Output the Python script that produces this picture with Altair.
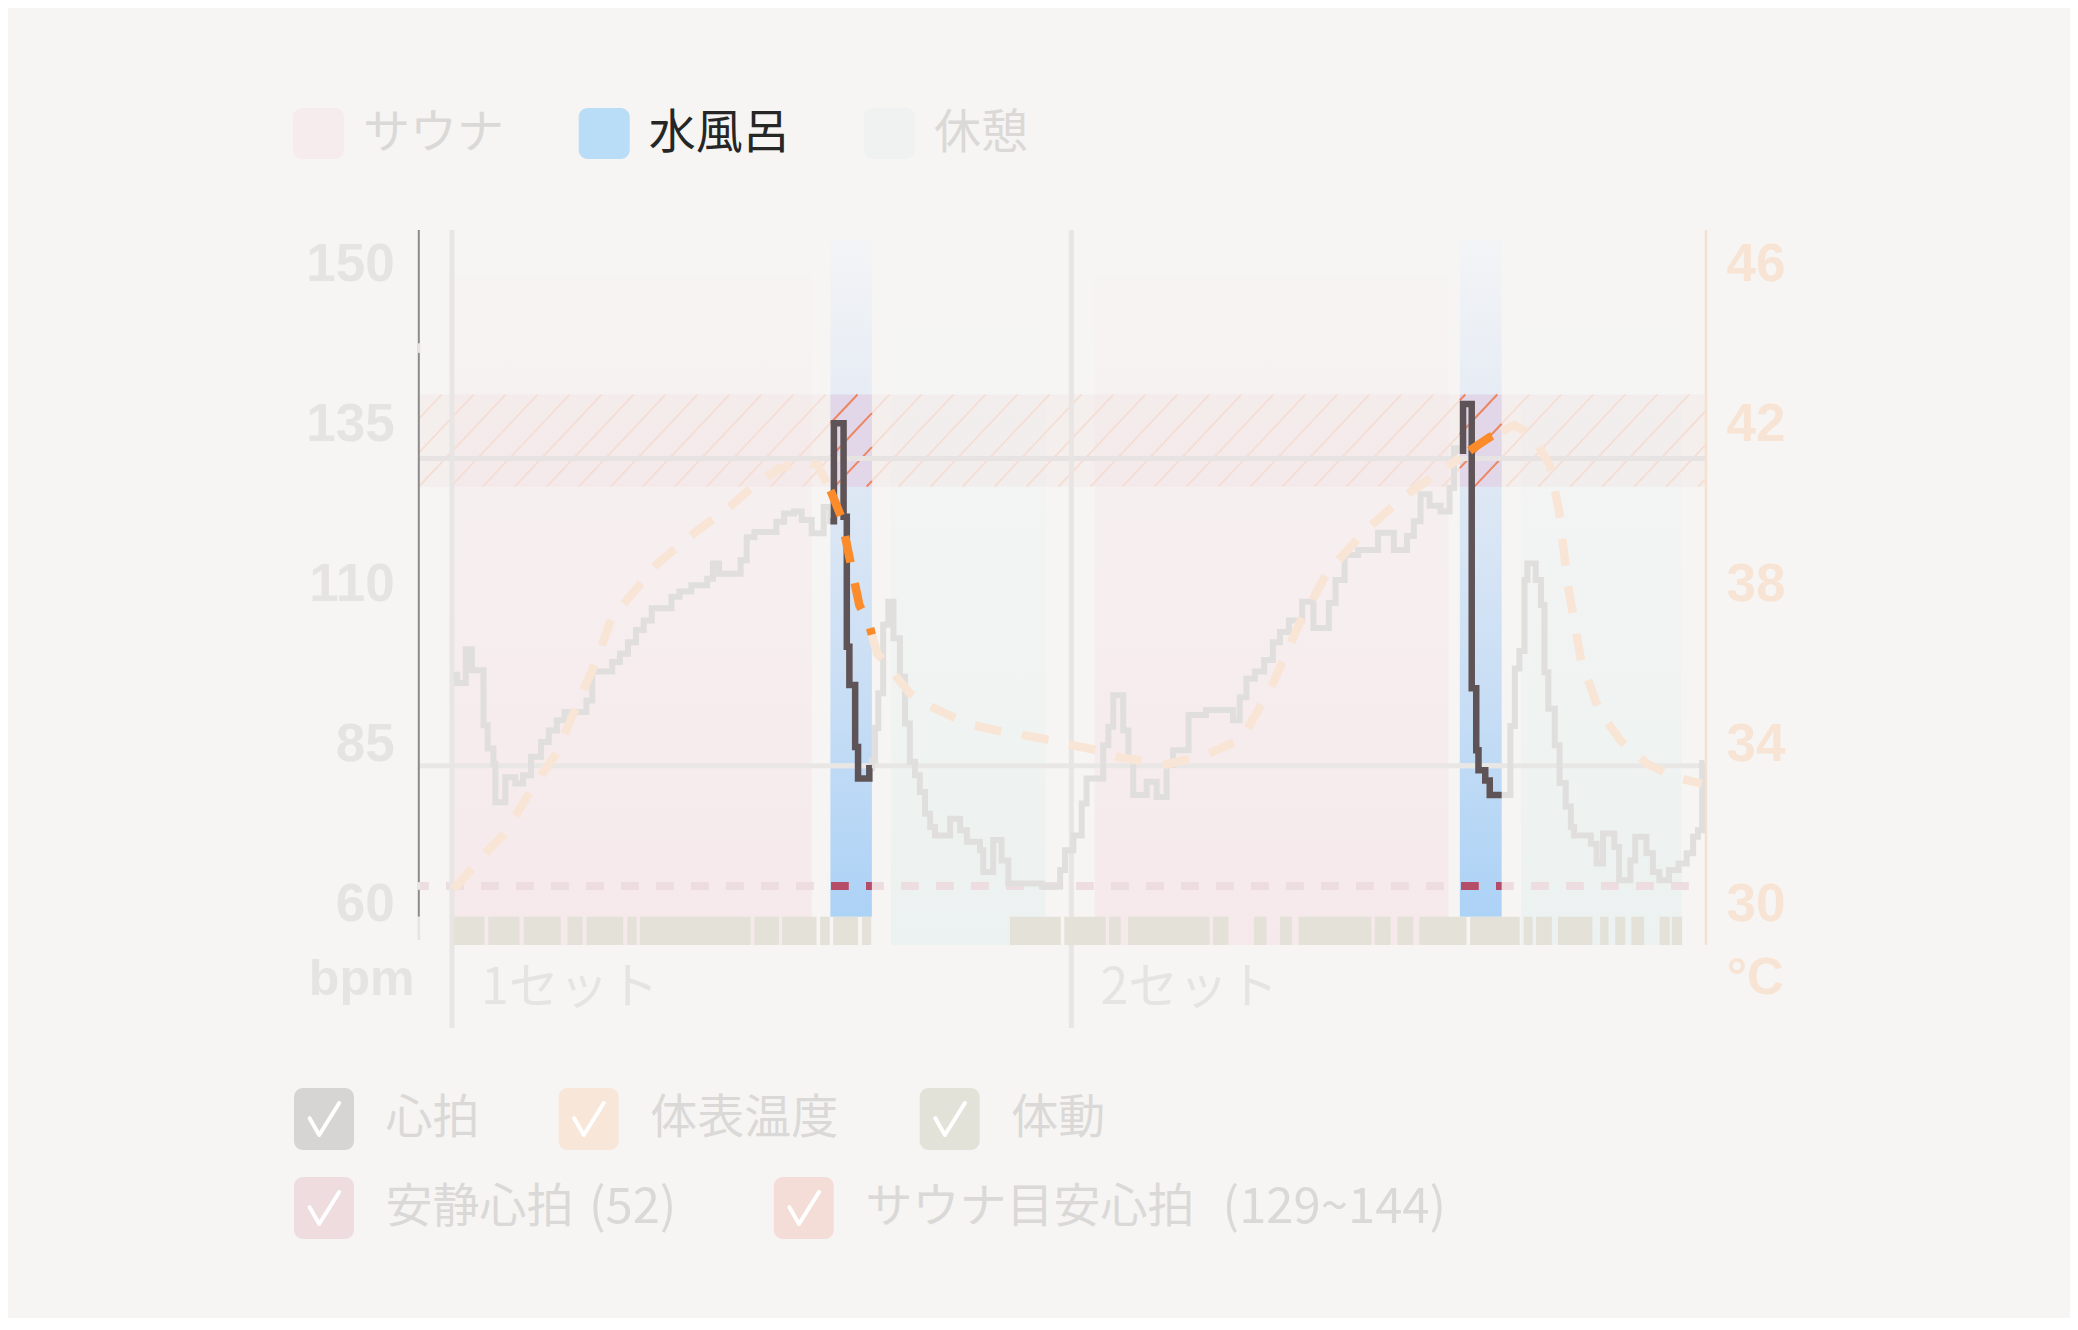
import altair as alt
import numpy as np
import pandas as pd

# ---------------- data (time in minutes, heart rate in bpm, temperature in °C) ----------------
phase_kind = ["サウナ", "水風呂", "休憩", "サウナ", "水風呂", "休憩"]
phase_start = [1.09, 12.79, 14.67, 21.00, 32.35, 34.25]
phase_end = [12.21, 14.08, 19.48, 32.00, 33.65, 39.24]

set_start = [1.03, 20.28]
set_label = ["1セット", "2セット"]

hr_t = [1.09, 1.19, 1.46, 1.65, 2.01, 2.14, 2.32, 2.38, 2.69, 3.00, 3.24, 3.49, 3.80, 4.04, 4.29,
        4.53, 5.21, 5.39, 6.01, 6.25, 6.50, 6.75, 6.99, 7.24, 7.85, 8.10, 8.47, 8.96, 9.14, 9.33,
        10.00, 10.19, 10.43, 11.11, 11.35, 11.66, 11.90, 12.21, 12.58,
        12.79, 12.90, 13.20, 13.30, 13.38, 13.56, 13.65, 14.00,
        14.08, 14.18, 14.28, 14.43, 14.59, 14.75, 14.95, 15.11, 15.26, 15.42, 15.57, 15.73, 15.89,
        16.04, 16.51, 16.82, 17.03, 17.44, 17.54, 17.85, 18.11, 18.32, 19.36, 19.93, 20.08, 20.34,
        20.60, 20.75, 21.27, 21.43, 21.58, 21.89, 22.05, 22.20, 22.62, 22.93, 23.24, 23.44, 23.92,
        24.46, 25.30, 25.51, 25.72, 25.98, 26.27, 26.54, 26.76, 27.04, 27.45, 27.80, 28.28, 28.49,
        28.77, 29.19, 29.81, 30.30, 30.71, 30.92, 31.13, 31.41, 31.75, 32.03, 32.17,
        32.35, 32.45, 32.72, 32.86, 32.93, 33.14, 33.28,
        33.65, 33.92, 34.06, 34.20, 34.36, 34.45, 34.71, 34.87, 34.98, 35.10, 35.30, 35.45, 35.64,
        35.80, 35.90, 36.42, 36.60, 36.80, 37.15, 37.30, 37.65, 37.80, 38.15, 38.35, 38.55, 38.85,
        39.15, 39.40, 39.60, 39.75, 39.88, 39.95]
hr_bpm = [96, 94.7, 100, 96.7, 88.1, 84.5, 82.1, 76.1, 80, 79, 80.3, 83.2, 85.5, 87.3, 88.9,
          90.2, 92, 96.5, 98, 99.3, 101.1, 103, 104.5, 106.4, 108.2, 109, 110, 111, 113.4, 111.8,
          113.9, 117.5, 118.3, 119.9, 121.2, 121.5, 120.2, 118.1, 122.2,
          120, 135.3, 120.7, 100.4, 94.4, 84.7, 79.8, 81.4,
          82.6, 87.7, 93.1, 103.8, 107.4, 101.7, 95.7, 88.4, 82.4, 80.3, 77.7, 74.3, 72.2,
          70.9, 73.5, 71.7, 69.9, 68.6, 65.2, 70.2, 67, 63.4, 62.9, 65.5, 68.6, 70.9,
          75.9, 79.8, 85, 87.9, 92.8, 87.3, 82.9, 77.2, 79.3, 76.9, 81.9, 84.2, 89.7,
          90.5, 88.9, 92.5, 95.4, 96.5, 98.3, 101.1, 102.7, 104.5, 107.4, 103.3, 107.2, 110.8,
          114.7, 115.5, 118.2, 115.5, 117.7, 120, 124.2, 122.4, 121.5, 125.2, 131.4,
          131, 138.3, 93.9, 84.2, 81.1, 79.5, 77.2,
          77.2, 88, 97, 99.7, 110.8, 113.4, 110.8, 106.9, 96.4, 90.7, 85, 79.1, 75.4,
          72.2, 70.9, 69.6, 66.5, 71.2, 69.1, 63.9, 67, 70.7, 68.1, 65.2, 63.9, 65.5,
          66.5, 68.1, 70.7, 71.7, 82.2, 82.2]

temp_t = [1.09, 2.07, 2.68, 3.55, 4.28, 5.02, 5.51, 6.00, 6.75, 7.36, 8.10, 8.71, 9.57, 10.44,
          11.16, 11.90, 12.40, 12.83, 13.13, 13.38, 13.69, 14.00, 14.24, 14.59, 15.26, 15.83,
          16.61, 17.23, 18.06, 18.79, 19.61, 20.29, 21.07, 21.74, 22.57, 23.24, 24.46, 25.58,
          26.54, 27.38, 28.22, 29.33, 30.58, 31.85, 32.72, 33.28, 34.03, 34.59, 35.15, 35.43,
          35.71, 36.12, 36.68, 37.36, 38.20, 39.04, 39.87]
temp_c = [30.4, 31.3, 31.8, 32.96, 33.8, 35.2, 36.1, 37.2, 37.9, 38.5, 39.0, 39.4, 39.9, 40.5,
          40.9, 41.1, 41.0, 40.3, 39.7, 38.7, 37.5, 37.0, 36.3, 35.95, 35.3, 35.0,
          34.7, 34.5, 34.35, 34.25, 34.13, 34.0, 33.88, 33.7, 33.6, 33.52, 33.76, 34.16,
          35.54, 37.07, 38.3, 39.3, 40.2, 40.9, 41.4, 41.7, 42.0, 41.76, 41.0, 39.86,
          38.0, 36.1, 34.86, 34.1, 33.52, 33.2, 33.04]

move_start = [1.09, 2.16, 3.26, 4.62, 5.21, 6.48, 6.87, 10.43, 11.29, 12.47, 12.88, 13.77,
              18.37, 20.06, 21.45, 22.04, 24.68, 25.95, 26.76, 27.34, 29.71, 30.41, 31.09, 32.67,
              34.34, 34.72, 35.40, 36.71, 37.18, 37.68, 38.56, 38.94]
move_end = [2.04, 3.13, 4.41, 5.09, 6.35, 6.77, 10.31, 11.19, 12.36, 12.77, 13.65, 14.06,
            19.95, 21.35, 21.81, 24.57, 25.16, 26.34, 27.13, 29.60, 30.20, 30.90, 32.56, 34.21,
            34.61, 35.21, 36.47, 36.97, 37.49, 38.08, 38.87, 39.26]

target_band = [125.4, 139.8]
target_line = 129.8
low_line = 81.8
rest_line = 63.0

legend_top = ["サウナ", "水風呂", "休憩"]
legend_row1 = ["心拍", "体表温度", "体動"]
legend_row2 = [("安静心拍", "(52)"), ("サウナ目安心拍", "(129~144)")]
bpm_ticks = [60, 85, 110, 135, 160]
bpm_tick_labels = ["60", "85", "110", "135", "150"]
temp_ticks = [30, 34, 38, 42, 46]

# ---------------- layout / style ----------------
W, H = 1287.2, 686.7
STRIP = 715          # bottom of the 体動 strip (px from plot top)
X_DOM = [0, 40]
XS = alt.Scale(domain=X_DOM, nice=False, zero=False)
YS = alt.Scale(domain=[58.2, 165.5], nice=False, zero=False)
TS = alt.Scale(domain=[29.712, 46.88], nice=False, zero=False)
PPM = W / (X_DOM[1] - X_DOM[0])
CJK = "Noto Sans CJK JP"
NUM = "Liberation Sans"
PHASE_TOP = {"サウナ": 158.6, "水風呂": 164.0, "休憩": 150.0}
FADED = "#dbd9d7"


def grad(stops):
    return alt.Gradient(gradient="linear", x1=0, x2=0, y1=0, y2=1,
                        stops=[alt.GradientStop(offset=o, color=c) for o, c in stops])


def X(f):
    return alt.X(f, type="quantitative", scale=XS, axis=None)


def Y(f):
    return alt.Y(f, type="quantitative", scale=YS, axis=None)


def YT(f):
    return alt.Y(f, type="quantitative", scale=TS, axis=None)


phase_df = pd.DataFrame({"kind": phase_kind, "a": phase_start, "b": phase_end})
phase_df["top"] = phase_df["kind"].map(PHASE_TOP)
water = phase_df[phase_df.kind == "水風呂"][["a", "b"]].values.tolist()


def complement(wins, lo, hi):
    out, cur = [], lo
    for a, b in wins:
        out.append([cur, a])
        cur = b
    out.append([cur, hi])
    return out


non_water = complement(water, X_DOM[0], X_DOM[1])

# ----- phase rectangles -----
sauna_l = alt.Chart(phase_df[phase_df.kind == "サウナ"]).mark_rect(
    color=grad([(0, "#f6f4f3"), (0.35, "#f6eff0"), (1, "#f6e9eb")])
).encode(x=X("a"), x2="b:Q", y=Y("top"), y2=alt.value(STRIP))
rest_l = alt.Chart(phase_df[phase_df.kind == "休憩"]).mark_rect(
    color=grad([(0, "#f5f5f4"), (1, "#ecf2f1")])
).encode(x=X("a"), x2="b:Q", y=Y("top"), y2=alt.value(STRIP))
water_l = alt.Chart(phase_df[phase_df.kind == "水風呂"]).mark_rect(
    color=grad([(0, "#f3f4f6"), (0.3, "#e3eaf4"), (0.7, "#c6ddf5"), (1, "#acd2f6")])
).encode(x=X("a"), x2="b:Q", y=Y("top"), y2=alt.value(H))

# ----- sauna target band + hatch -----
band_df = pd.DataFrame([{"a": a, "b": b, "lo": target_band[0], "hi": target_band[1]} for a, b in non_water])
band_hl_df = pd.DataFrame([{"a": a, "b": b, "lo": target_band[0], "hi": target_band[1]} for a, b in water])
band_l = alt.Chart(band_df).mark_rect(color="#efd8d8", opacity=0.22).encode(
    x=X("a"), x2="b:Q", y=Y("lo"), y2="hi:Q")
band_hl_l = alt.Chart(band_hl_df).mark_rect(color="#e1d7e8").encode(
    x=X("a"), x2="b:Q", y=Y("lo"), y2="hi:Q")


def hatch(lo_x, hi_x, spacing=0.994, run=2.7):
    rows = []
    y0, y1 = target_band
    for k in range(int(np.floor((lo_x - run) / spacing)) - 1, int(np.ceil(hi_x / spacing)) + 1):
        xs = k * spacing
        s0 = max(0.0, (lo_x - xs) / run)
        s1 = min(1.0, (hi_x - xs) / run)
        if s1 > s0:
            rows.append({"xa": xs + s0 * run, "xb": xs + s1 * run,
                         "ya": y0 + s0 * (y1 - y0), "yb": y0 + s1 * (y1 - y0)})
    return rows


hatch_df = pd.DataFrame(hatch(X_DOM[0], X_DOM[1]))
hatch_hl_df = pd.DataFrame([r for a, b in water for r in hatch(a, b)])
hatch_l = alt.Chart(hatch_df).mark_rule(color="#f6dcd1", strokeWidth=1.6).encode(
    x=X("xa"), x2="xb:Q", y=Y("ya"), y2="yb:Q")
hatch_hl_l = alt.Chart(hatch_hl_df).mark_rule(color="#ec8563", strokeWidth=2).encode(
    x=X("xa"), x2="xb:Q", y=Y("ya"), y2="yb:Q")

# ----- reference lines -----
hline_df = pd.DataFrame([{"v": target_line, "a": X_DOM[0], "b": X_DOM[1], "k": "t"},
                         {"v": low_line, "a": X_DOM[0], "b": X_DOM[1], "k": "l"}])
hline_hl_df = pd.DataFrame([{"v": v, "a": a, "b": b, "k": k} for a, b in water
                            for v, k in [(target_line, "t"), (low_line, "l")]])
hline_l = alt.Chart(hline_df).mark_rule(strokeWidth=5).encode(
    x=X("a"), x2="b:Q", y=Y("v"),
    color=alt.Color("k:N", scale=alt.Scale(domain=["t", "l"], range=["#e7e3e2", "#e9e7e5"]), legend=None))
hline_hl_l = alt.Chart(hline_hl_df).mark_rule(strokeWidth=5).encode(
    x=X("a"), x2="b:Q", y=Y("v"),
    color=alt.Color("k:N", scale=alt.Scale(domain=["t", "l"], range=["#978790", "#8e8e8e"]), legend=None))

DASH, DASH_OFF = [17.8, 17.2], 7.8
rest_l_df = pd.DataFrame({"v": [rest_line], "a": [X_DOM[0]], "b": [X_DOM[1]]})
restline_l = alt.Chart(rest_l_df).mark_rule(color="#eddde1", strokeWidth=8, strokeDash=DASH,
                                             strokeDashOffset=DASH_OFF).encode(
    x=X("a"), x2="b:Q", y=Y("v"))
restline_hl = []
for a, b in water:
    off = (a * PPM + DASH_OFF) % sum(DASH)
    restline_hl.append(alt.Chart(pd.DataFrame({"v": [rest_line], "a": [a], "b": [b]})).mark_rule(
        color="#b54d69", strokeWidth=8, strokeDash=DASH, strokeDashOffset=off).encode(
        x=X("a"), x2="b:Q", y=Y("v")))

# ----- set separators, 体動 strip, axis lines, markers -----
set_df = pd.DataFrame({"start": set_start, "label": set_label})
set_l = alt.Chart(set_df).mark_rule(color="#e8e6e4", strokeWidth=5).encode(
    x=X("start"), y=alt.value(0), y2=alt.value(798))
move_df = pd.DataFrame({"a": move_start, "b": move_end})
move_l = alt.Chart(move_df).mark_rect(color="#e3e1d8").encode(
    x=X("a"), x2="b:Q", y=alt.value(H), y2=alt.value(STRIP))
axis_df = pd.DataFrame({"x": [X_DOM[0], X_DOM[0], X_DOM[1]], "y0": [0, H, 0], "y1": [H, 710, STRIP],
                        "c": ["l", "e", "r"]})
axis_lines = [
    alt.Chart(axis_df[axis_df.c == c]).mark_rule(color=col, strokeWidth=w).encode(
        x=X("x"), y=alt.value(float(axis_df[axis_df.c == c].y0.iloc[0])),
        y2=alt.value(float(axis_df[axis_df.c == c].y1.iloc[0])))
    for c, col, w in [("l", "#8b8b8b", 2), ("e", "#e6e4e2", 2.5), ("r", "#f6e1d0", 2.5)]
]
mark_df = pd.DataFrame({"x": [0, 0], "lo": [146.3, rest_line - 0.6], "hi": [147.8, rest_line + 0.6],
                        "c": ["m", "r"]})
mark_l = alt.Chart(mark_df).mark_rule(strokeWidth=3).encode(
    x=X("x"), y=Y("lo"), y2="hi:Q",
    color=alt.Color("c:N", scale=alt.Scale(domain=["m", "r"], range=["#e0487c", "#9b22ee"]), legend=None))

# ----- axis labels (drawn through the scales) -----
ylab_l = alt.Chart(pd.DataFrame({"v": bpm_ticks, "s": bpm_tick_labels})).mark_text(
    align="right", baseline="middle", font=NUM, fontSize=53, fontWeight="bold", color="#e6e4e2"
).encode(x=alt.value(-24), y=Y("v"), text="s:N")
tlab_l = alt.Chart(pd.DataFrame({"v": temp_ticks})).mark_text(
    align="left", baseline="middle", font=NUM, fontSize=53, fontWeight="bold", color="#f8e4d4"
).encode(x=alt.value(W + 20.5), y=YT("v"), text="v:N")

# ----- heart rate -----
hr_df = pd.DataFrame({"t": hr_t, "v": hr_bpm})
hr_arr_t, hr_arr_v = np.array(hr_t), np.array(hr_bpm)
rows = []
for i, (a, b) in enumerate(water):
    ia = max(np.searchsorted(hr_arr_t, a, side="right") - 1, 0)
    ib = np.searchsorted(hr_arr_t, b, side="left") - 1
    rows.append({"t": a, "v": hr_arr_v[ia], "w": i})
    for t, v in zip(hr_arr_t, hr_arr_v):
        if a < t < b:
            rows.append({"t": t, "v": v, "w": i})
    rows.append({"t": b, "v": hr_arr_v[ib], "w": i})
hr_hl_df = pd.DataFrame(rows)
hr_l = alt.Chart(hr_df).mark_line(interpolate="step-after", color="#e0dfdd", strokeWidth=6).encode(
    x=X("t"), y=Y("v"))
hr_hl_l = alt.Chart(hr_hl_df).mark_line(interpolate="step-after", color="#5e5357", strokeWidth=6.5).encode(
    x=X("t"), y=Y("v"), detail="w:N", order="t:Q")

# ----- temperature -----
tt, tv = np.array(temp_t), np.array(temp_c)


def temp_piece(a, b, tag):
    ts = [a] + [t for t in tt if a < t < b] + [b]
    return [{"t": t, "v": float(np.interp(t, tt, tv)), "seg": tag} for t in ts]


temp_rows = []
for i, (a, b) in enumerate(complement(water, tt[0], tt[-1])):
    temp_rows += temp_piece(a, b, i)
TDASH = [27, 21]
temp_l = alt.Chart(pd.DataFrame(temp_rows)).mark_line(color="#f9e5d5", strokeWidth=8.5, strokeDash=TDASH).encode(
    x=X("t"), y=YT("v"), detail="seg:N", order="t:Q")
temp_hl = []
for i, ((a, b), off) in enumerate(zip(water, [0, 36])):
    temp_hl.append(alt.Chart(pd.DataFrame(temp_piece(a, b, i))).mark_line(
        color="#fb8b2b", strokeWidth=8.5, strokeDash=TDASH, strokeDashOffset=off).encode(
        x=X("t"), y=YT("v"), order="t:Q"))

# ----- texts & legends -----
one = pd.DataFrame({"d": [0]})


def text(s, x, y, size, color, font=CJK, weight="normal", align="left"):
    return alt.Chart(pd.DataFrame({"s": [s]})).mark_text(
        align=align, baseline="middle", font=font, fontSize=size, fontWeight=weight, color=color
    ).encode(x=alt.value(x), y=alt.value(y), text="s:N")


def box(x0, y0, w, h, color, r=9):
    return alt.Chart(one).mark_rect(color=color, cornerRadius=r).encode(
        x=alt.value(x0), x2=alt.value(x0 + w), y=alt.value(y0), y2=alt.value(y0 + h))


CHECK = "M -0.9 -0.05 L -0.3 1 L 0.95 -1"


def check(cx, cy):
    return alt.Chart(one).mark_point(shape=CHECK, size=1024, filled=False, color="white",
                                     strokeWidth=4, opacity=1, strokeCap="round",
                                     strokeJoin="round").encode(x=alt.value(cx), y=alt.value(cy))


texts = []
# top legend
top_x = [-125.8, 159.9, 445.2]
top_colors = ["#f6ecee", "#b9dcf7", "#eff2f1"]
top_text_colors = [FADED, "#262626", FADED]
for lbl, x0, c, tc in zip(legend_top, top_x, top_colors, top_text_colors):
    texts.append(box(x0, -122, 51, 51, c, r=9))
    texts.append(text(lbl, x0 + 70, -96, 47, tc))
# bottom legend
row1_x = [-124.8, 139.8, 500.9]
row1_c = ["#d6d5d3", "#f8e6d8", "#e3e2d9"]
for lbl, x0, c in zip(legend_row1, row1_x, row1_c):
    texts += [box(x0, 858, 60, 62, c), check(x0 + 30, 889), text(lbl, x0 + 91.6, 889, 47, FADED)]
row2_x = [-124.8, 355.0]
row2_paren_x = [170.1, 803.8]
row2_c = ["#eedcdf", "#f4ddd6"]
for (lbl, par), x0, px, c in zip(legend_row2, row2_x, row2_paren_x, row2_c):
    texts += [box(x0, 947, 60, 62, c), check(x0 + 30, 978), text(lbl, x0 + 91.6, 978, 47, FADED),
              text(par, px, 978, 49, FADED)]
# axis units
texts.append(text("bpm", -4.4, 750, 50, "#e6e4e2", font=NUM, weight="bold", align="right"))
texts.append(text("°C", 1307.9, 749, 51, "#f8e4d4", font=NUM, weight="bold"))
# set labels
texts.append(alt.Chart(set_df).mark_text(align="left", baseline="middle", dx=29, font=CJK,
                                         fontSize=50, color="#e6e4e2").encode(
    x=X("start"), y=alt.value(759), text="label:N"))

bpm_layer = alt.layer(sauna_l, rest_l, water_l, band_l, band_hl_l, hatch_l, hatch_hl_l,
                      hline_l, hline_hl_l, restline_l, *restline_hl, set_l, move_l, *axis_lines,
                      mark_l, ylab_l, hr_l, hr_hl_l)
temp_layer = alt.layer(tlab_l, temp_l, *temp_hl)
text_layer = alt.layer(*texts)

chart = alt.layer(bpm_layer, temp_layer, text_layer).resolve_scale(
    y="independent", color="independent"
).properties(
    width=W, height=H,
    padding={"left": 410.8, "top": 222, "right": 364, "bottom": 401.3},
    autosize=alt.AutoSizeParams(type="none"),
    background="#f6f5f3",
).configure(font=CJK).configure_view(stroke=None)

chart.save("out.html", embed_options={"renderer": "svg", "actions": False})
